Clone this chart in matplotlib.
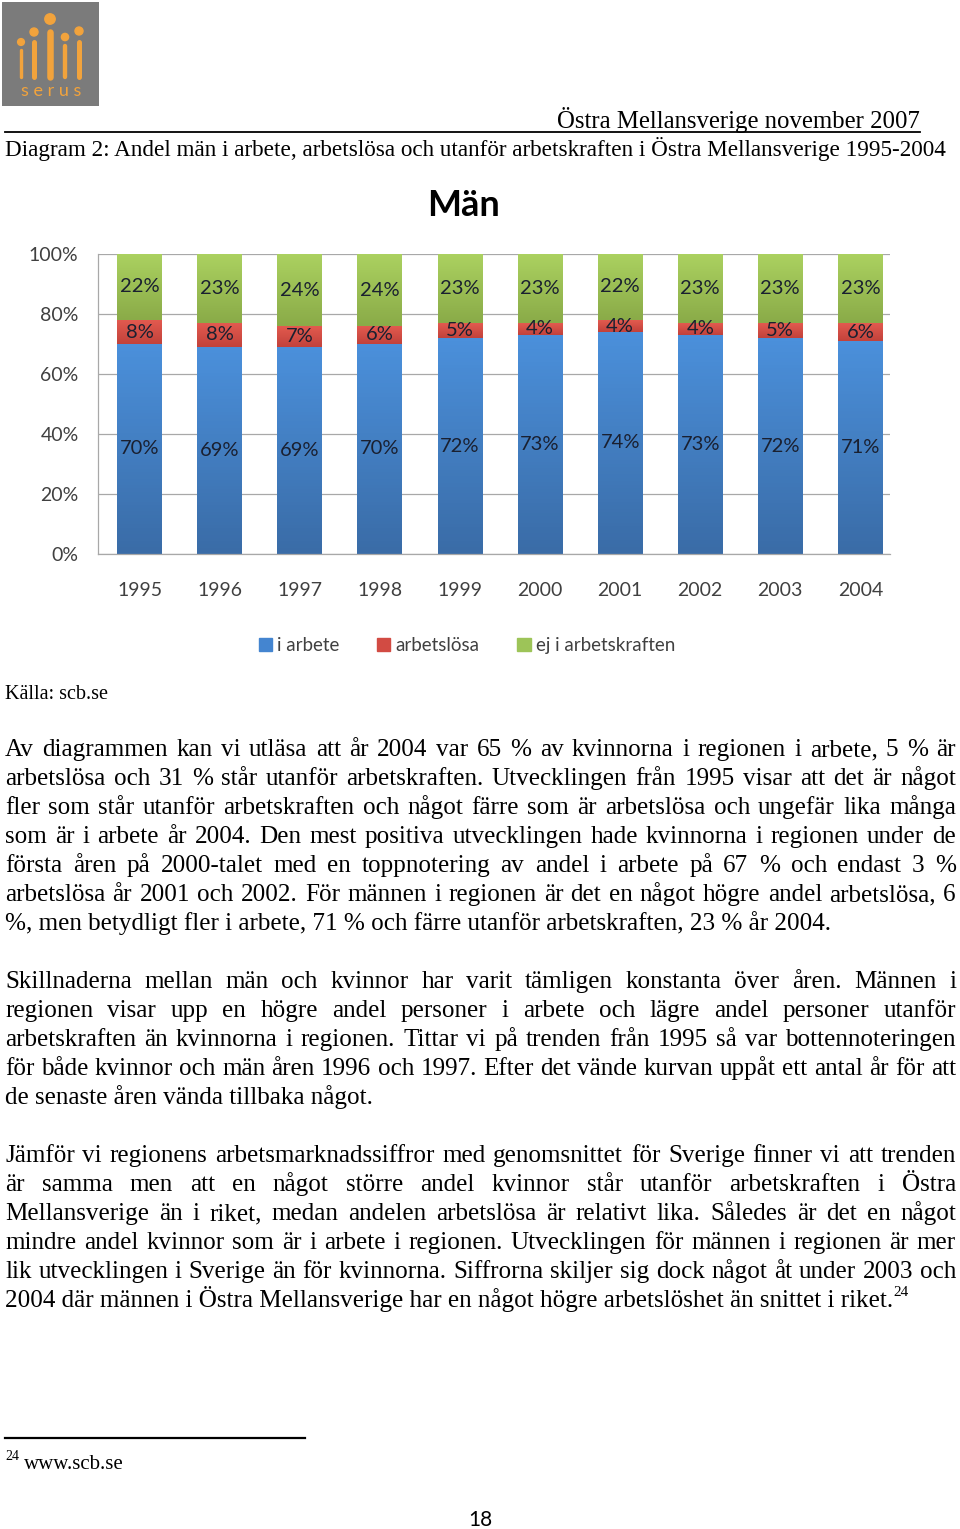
import numpy as np
import matplotlib
matplotlib.use("Agg")
import matplotlib.pyplot as plt
from matplotlib.patches import Rectangle, Patch
from matplotlib.colors import LinearSegmentedColormap

# Data
years = ["1995", "1996", "1997", "1998", "1999", "2000", "2001", "2002", "2003", "2004"]
i_arbete = [70, 69, 69, 70, 72, 73, 74, 73, 72, 71]
arbetslosa = [8, 8, 7, 6, 5, 4, 4, 4, 5, 6]
ej_arbetskraften = [22, 23, 24, 24, 23, 23, 22, 23, 23, 23]
series_names = ["i arbete", "arbetslösa", "ej i arbetskraften"]
y_ticks = [0, 20, 40, 60, 80, 100]

# Page text
header_right = "Östra Mellansverige november 2007"
caption = "Diagram 2: Andel män i arbete, arbetslösa och utanför arbetskraften i Östra Mellansverige 1995-2004"
source = "Källa: scb.se"

para1 = [
    "Av diagrammen kan vi utläsa att år 2004 var 65 % av kvinnorna i regionen i arbete, 5 % är",
    "arbetslösa och 31 % står utanför arbetskraften. Utvecklingen från 1995 visar att det är något",
    "fler som står utanför arbetskraften och något färre som är arbetslösa och ungefär lika många",
    "som är i arbete år 2004. Den mest positiva utvecklingen hade kvinnorna i regionen under de",
    "första åren på 2000-talet med en toppnotering av andel i arbete på 67 % och endast 3 %",
    "arbetslösa år 2001 och 2002. För männen i regionen är det en något högre andel arbetslösa, 6",
    "%, men betydligt fler i arbete, 71 % och färre utanför arbetskraften, 23 % år 2004.",
]
para2 = [
    "Skillnaderna mellan män och kvinnor har varit tämligen konstanta över åren. Männen i",
    "regionen visar upp en högre andel personer i arbete och lägre andel personer utanför",
    "arbetskraften än kvinnorna i regionen. Tittar vi på trenden från 1995 så var bottennoteringen",
    "för både kvinnor och män åren 1996 och 1997. Efter det vände kurvan uppåt ett antal år för att",
    "de senaste åren vända tillbaka något.",
]
para3 = [
    "Jämför vi regionens arbetsmarknadssiffror med genomsnittet för Sverige finner vi att trenden",
    "är samma men att en något större andel kvinnor står utanför arbetskraften i Östra",
    "Mellansverige än i riket, medan andelen arbetslösa är relativt lika. Således är det en något",
    "mindre andel kvinnor som är i arbete i regionen. Utvecklingen för männen i regionen är mer",
    "lik utvecklingen i Sverige än för kvinnorna. Siffrorna skiljer sig dock något åt under 2003 och",
    "2004 där männen i Östra Mellansverige har en något högre arbetslöshet än snittet i riket.",
]

W, H = 960, 1529
fig = plt.figure(figsize=(W / 100, H / 100), dpi=100)
fig.patch.set_facecolor("white")

serif = "Liberation Serif"
sans = "Lato"

# ---- chart ----
ax = fig.add_axes([98 / W, 1 - 554 / H, 792 / W, 300 / H])
x = np.arange(len(years))
bw = 0.56
b1 = ax.bar(x, i_arbete, bw, color="#4485d0", zorder=2)
bottom2 = np.array(i_arbete)
b2 = ax.bar(x, arbetslosa, bw, bottom=bottom2, color="#d24b43", zorder=2)
bottom3 = bottom2 + np.array(arbetslosa)
b3 = ax.bar(x, ej_arbetskraften, bw, bottom=bottom3, color="#9dc458", zorder=2)


def shade(container, top, bot):
    cmap = LinearSegmentedColormap.from_list("g", [bot, top])
    grad = np.linspace(0, 1, 64).reshape(-1, 1)
    for p in container.patches:
        x0, y0 = p.get_xy()
        im = ax.imshow(grad, extent=[x0, x0 + p.get_width(), y0, y0 + p.get_height()],
                       origin="lower", cmap=cmap, aspect="auto", zorder=2.5)
        im.set_clip_path(p)


shade(b1, "#4b90db", "#3a6ca7")
shade(b2, "#e25a4f", "#c2423b")
shade(b3, "#abd160", "#8aab48")

for cont, vals in [(b1, i_arbete), (b2, arbetslosa), (b3, ej_arbetskraften)]:
    lbls = ax.bar_label(cont, labels=[f"{v}%" for v in vals], label_type="center",
                        fontsize=14.5, color="#1a2030", fontfamily=sans)
    for t in lbls:
        t.set_zorder(4)

ax.set_xlim(-0.52, 9.37)
ax.set_ylim(0, 100)
ax.set_yticks(y_ticks)
ax.set_yticklabels([f"{v}%" for v in y_ticks])
ax.set_xticks(x)
ax.set_xticklabels(years)
ax.tick_params(axis="both", length=0, labelsize=14, labelcolor="#404040")
ax.tick_params(axis="x", pad=20)
ax.tick_params(axis="y", pad=14)
for lab in ax.get_xticklabels() + ax.get_yticklabels():
    lab.set_fontfamily(sans)
ax.yaxis.grid(True, color="#a8a8a8", lw=0.9)
ax.set_axisbelow(True)
for s in ["top", "right"]:
    ax.spines[s].set_visible(False)
for s in ["left", "bottom"]:
    ax.spines[s].set_color("#a8a8a8")
    ax.spines[s].set_linewidth(0.9)

fig.text(463 / W, 1 - 205 / H, "Män", ha="center", va="center", fontsize=26,
         fontweight="bold", fontfamily=sans, color="#000000")

handles = [Patch(color="#4485d0"), Patch(color="#d24b43"), Patch(color="#9dc458")]
fig.legend(handles, series_names, loc="center", bbox_to_anchor=(467 / W, 1 - 646 / H),
           ncol=3, frameon=False, handlelength=0.7, handleheight=0.7, handletextpad=0.3,
           columnspacing=2.0, prop={"family": sans, "size": 13.5}, labelcolor="#404040")

# ---- logo ----
lg = fig.add_axes([2 / W, 1 - 106 / H, 97 / W, 104 / H])
lg.set_xlim(0, 97)
lg.set_ylim(104, 0)
lg.axis("off")
lg.add_patch(Rectangle((0, 0), 97, 104, color="#7b7b7b"))
orange = "#f2a33c"
cols = [(19, 40, 46, 75, 3.4, 3.4), (32, 30, 37, 75, 5.0, 4.0), (48, 17, 27, 75, 6.5, 5.2),
        (63, 35, 42, 75, 4.4, 3.6), (77, 29, 37, 75, 5.0, 4.0)]
for cx, dy, y0, y1, lw, r in cols:
    lg.plot([cx, cx], [y0 + lw / 2, y1], color=orange, lw=lw * 0.72, solid_capstyle="round")
    lg.add_patch(plt.Circle((cx, dy), r, color=orange))
lg.text(49, 89, "s e r u s", ha="center", va="center", fontsize=13, color=orange, fontfamily=sans)

# ---- page text (pixel coordinates) ----
tx = fig.add_axes([0, 0, 1, 1], facecolor="none")
tx.set_xlim(0, W)
tx.set_ylim(H, 0)
tx.axis("off")

tx.text(920, 128, header_right, ha="right", va="baseline", fontsize=17.8, fontfamily=serif)
tx.plot([5, 920], [132, 132], color="black", lw=1.3)
tx.text(5, 156, caption, ha="left", va="baseline", fontsize=16.7, fontfamily=serif)
tx.text(5, 699, source, ha="left", va="baseline", fontsize=14.5, fontfamily=serif)

renderer = fig.canvas.get_renderer()
LEFT, RIGHT, LEAD = 5, 956, 29
BODY = 18.1


def width(t):
    return t.get_window_extent(renderer).width


def paragraph(lines, base):
    last = None
    for i, line in enumerate(lines):
        y = base + i * LEAD
        if i == len(lines) - 1:
            last = tx.text(LEFT, y, line, ha="left", va="baseline", fontsize=BODY, fontfamily=serif)
            break
        words = line.split(" ")
        objs = [tx.text(0, y, w, ha="left", va="baseline", fontsize=BODY, fontfamily=serif)
                for w in words]
        ws = [width(o) for o in objs]
        gap = (RIGHT - LEFT - sum(ws)) / (len(words) - 1)
        xpos = LEFT
        for o, w in zip(objs, ws):
            o.set_x(xpos)
            xpos += w + gap
    return last


paragraph(para1, 756)
paragraph(para2, 988)
end = paragraph(para3, 1162)
tx.text(LEFT + width(end), 1296, "24", ha="left", va="baseline", fontsize=11, fontfamily=serif)

tx.plot([5, 305], [1438, 1438], color="black", lw=1.6)
tx.text(5, 1460, "24", ha="left", va="baseline", fontsize=10, fontfamily=serif)
tx.text(24, 1469, "www.scb.se", ha="left", va="baseline", fontsize=15, fontfamily=serif)
tx.text(480, 1526, "18", ha="center", va="baseline", fontsize=15, fontfamily=sans)

fig.savefig("out.png", dpi=100)
